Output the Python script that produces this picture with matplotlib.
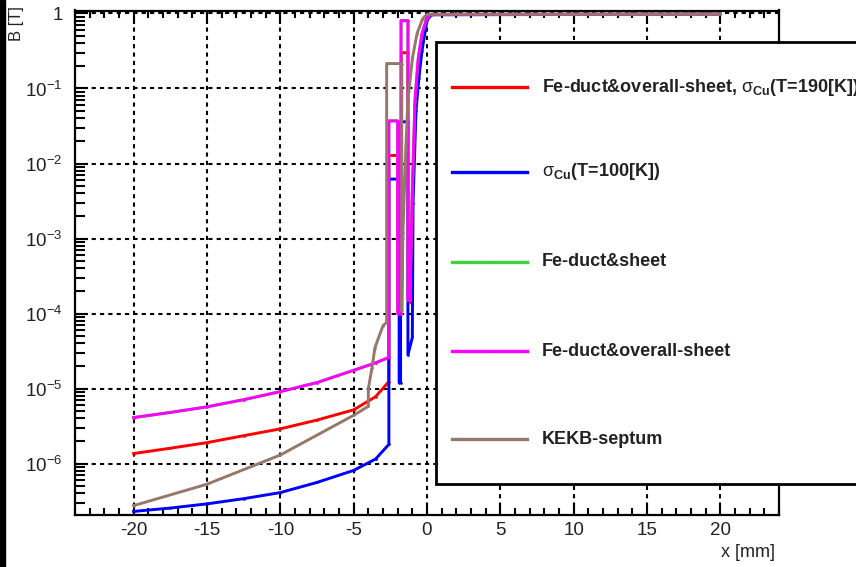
import matplotlib.pyplot as plt
from matplotlib.ticker import LogLocator, FuncFormatter, MultipleLocator, NullFormatter
from matplotlib.patches import Rectangle
from matplotlib.lines import Line2D
import numpy as np

plt.rcParams['font.family'] = ['Liberation Sans', 'DejaVu Sans']
plt.rcParams['mathtext.fontset'] = 'custom'
plt.rcParams['mathtext.rm'] = 'Liberation Sans'
plt.rcParams['mathtext.it'] = 'Liberation Sans:italic'
plt.rcParams['mathtext.bf'] = 'Liberation Sans:bold'
plt.rcParams['axes.unicode_minus'] = False

# field profiles across the septum, x in mm, B in T
x_red = [-20, -17.5, -15, -12.5, -10, -7.5, -5, -3.5, -2.6, -2.6, -2.0, -2.0, -1.75, -1.75,
         -1.3, -1.3, -1.1, -1.0, -0.8, -0.55, -0.3, 0, 0.3, 20]
b_red = [1.36e-6, 1.6e-6, 1.9e-6, 2.35e-6, 2.9e-6, 3.8e-6, 5.2e-6, 7.8e-6, 1.24e-5, 1.28e-2,
         1.28e-2, 1.3e-4, 1.3e-4, 0.30, 0.30, 1.6e-4, 1.4e-4, 3e-3, 6e-2, 0.2, 0.5, 0.88, 0.97, 0.98]

x_blue = [-20, -17.5, -15, -12.5, -10, -7.5, -5, -3.5, -2.6, -2.6, -1.9, -1.9, -1.8, -1.8,
          -1.3, -1.3, -1.0, -0.95, -0.75, -0.55, -0.34, 0, 0.3, 20]
b_blue = [2.3e-7, 2.55e-7, 2.9e-7, 3.4e-7, 4.1e-7, 5.6e-7, 8.1e-7, 1.15e-6, 1.8e-6, 6.2e-3,
          6.2e-3, 1.2e-5, 1.2e-5, 3.6e-2, 3.6e-2, 2.8e-5, 4.8e-5, 3e-3, 5e-2, 0.14, 0.32, 0.81, 0.96, 0.98]

x_green = [-20, -17.5, -15, -12.5, -10, -7.5, -5, -3.5, -2.6, -2.6, -2.0, -2.0, -1.77, -1.77,
           -1.3, -1.3, -1.16, -1.02, -0.82, -0.6, -0.34, 0, 0.3, 20]
b_green = [4.1e-6, 4.8e-6, 5.7e-6, 7.1e-6, 9.1e-6, 1.2e-5, 1.75e-5, 2.2e-5, 2.6e-5, 3.7e-2,
           3.7e-2, 1.0e-4, 1.0e-4, 0.81, 0.81, 1.5e-4, 1.5e-4, 3.2e-3, 6.9e-2, 0.25, 0.54, 0.88, 0.97, 0.98]

x_mag = [-20, -17.5, -15, -12.5, -10, -7.5, -5, -3.5, -2.6, -2.6, -2.0, -2.0, -1.77, -1.77,
         -1.3, -1.3, -1.16, -1.02, -0.82, -0.6, -0.34, 0, 0.3, 20]
b_mag = [4.1e-6, 4.8e-6, 5.7e-6, 7.1e-6, 9.1e-6, 1.2e-5, 1.75e-5, 2.2e-5, 2.6e-5, 3.7e-2,
         3.7e-2, 1.0e-4, 1.0e-4, 0.80, 0.80, 1.5e-4, 1.5e-4, 3.2e-3, 6.9e-2, 0.25, 0.54, 0.88, 0.97, 0.98]

x_brown = [-20, -15, -10, -5, -4.0, -4.0, -3.75, -3.55, -3.0, -2.75, -2.75, -1.72, -1.72,
           -1.64, -1.45, -1.3, -1.0, -0.68, -0.3, 0, 20]
b_brown = [2.75e-7, 5.3e-7, 1.3e-6, 4.4e-6, 5.8e-6, 1.0e-5, 1.9e-5, 3.5e-5, 6.9e-5, 7.6e-5,
           0.215, 0.215, 1.1e-4, 1.2e-3, 1.5e-2, 6.9e-2, 0.25, 0.54, 0.85, 0.98, 0.98]

labels = [r"Fe-duct&overall-sheet, $\mathrm{\sigma}_{\mathbf{Cu}}$(T=190[K])",
          r"$\mathrm{\sigma}_{\mathbf{Cu}}$(T=100[K])",
          "Fe-duct&sheet",
          "Fe-duct&overall-sheet",
          "KEKB-septum"]
colors = ['#ff0000', '#0000ff', '#3fcf3f', '#ff00ff', '#957869']
series = [(x_red, b_red), (x_blue, b_blue), (x_green, b_green), (x_mag, b_mag), (x_brown, b_brown)]

W, H = 856, 567
fig = plt.figure(figsize=(W / 100, H / 100), dpi=100)
ax = fig.add_axes([75 / W, 1 - 515 / H, (779 - 75) / W, (515 - 10.5) / H])

for (xs, bs), c in zip(series, colors):
    ax.plot(xs, bs, color=c, lw=2.1, marker='.', markersize=1.8, zorder=3)

ax.set_yscale('log')
ax.set_xlim(-24, 24)
ax.set_ylim(2.06e-7, 1.096)

ax.xaxis.set_major_locator(MultipleLocator(5))
ax.xaxis.set_minor_locator(MultipleLocator(1))
ax.yaxis.set_major_locator(LogLocator(base=10, numticks=20))
ax.yaxis.set_minor_locator(LogLocator(base=10, subs=np.arange(2, 10), numticks=20))
ax.yaxis.set_minor_formatter(NullFormatter())


def decade(v, pos):
    if abs(v - 1) < 1e-9:
        return "1"
    return r"$10^{%d}$" % int(round(np.log10(v)))


ax.yaxis.set_major_formatter(FuncFormatter(decade))

ax.grid(True, which='major', color='black', linestyle=(0, (2, 2)), linewidth=1.5, zorder=1)
ax.set_axisbelow(True)

for s in ax.spines.values():
    s.set_linewidth(1.6)
ax.tick_params(which='both', direction='in', top=True, right=False, width=1.5,
               labelsize=13.5, colors='black', labelcolor='#222222')
ax.tick_params(which='major', length=9)
ax.tick_params(which='minor', length=5)
ax.tick_params(axis='y', which='minor', length=7)
ax.tick_params(axis='x', pad=5)
ax.tick_params(axis='y', pad=9)

# axis titles
fig.text(775 / W, 1 - 557 / H, "x [mm]", ha='right', va='baseline', fontsize=13, color='#222222')
fig.text(17 / W, 1 - 6 / H, "B [T]", rotation=90, ha='center', va='top', fontsize=12, color='#222222')

# dark strip along the left edge
fig.add_artist(Rectangle((0, 0), 5 / W, 1, transform=fig.transFigure, color='black', zorder=5))

# legend box
fig.add_artist(Rectangle((436 / W, 1 - 484 / H), 1.0, (484 - 42) / H, transform=fig.transFigure,
                         facecolor='white', edgecolor='black', linewidth=2, zorder=5))
rows = [87, 172, 262, 351, 439]
for y, c, lab in zip(rows, colors, labels):
    yy = 1 - y / H
    fig.add_artist(Line2D([452 / W, 527 / W], [yy, yy], transform=fig.transFigure,
                          color=c, lw=2.4, zorder=6))
    fig.add_artist(Line2D([489.5 / W], [yy], transform=fig.transFigure, color=c,
                          marker='.', markersize=2.5, zorder=6))
    fig.text(542 / W, yy, lab, ha='left', va='center', fontsize=13, fontweight='bold',
             color='#222222', zorder=7)

fig.savefig("out.png", dpi=100)
